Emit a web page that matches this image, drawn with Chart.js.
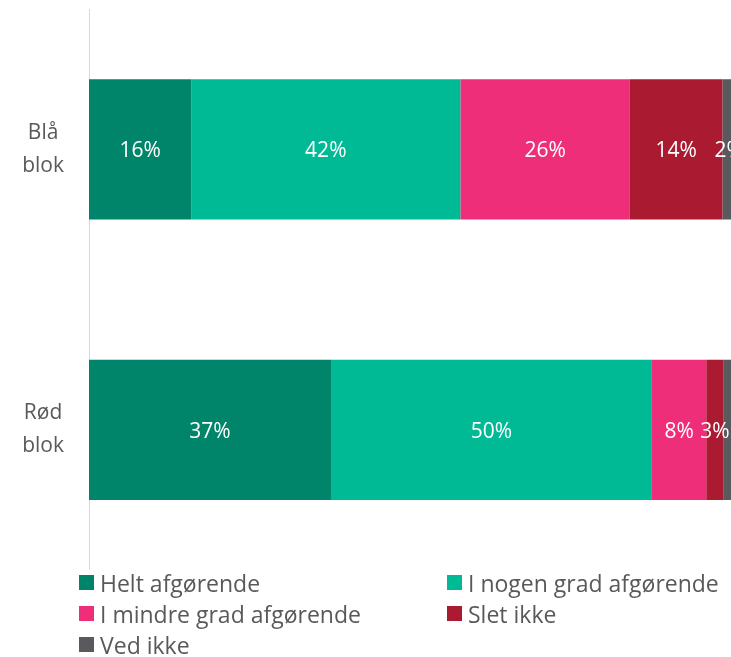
<!DOCTYPE html>
<html>
<head>
<meta charset="utf-8">
<script src="https://cdn.jsdelivr.net/npm/chart.js@4"></script>
<style>
  html, body { margin: 0; padding: 0; background: #fff; overflow: hidden; }
  body { width: 731px; height: 657px; position: relative; font-family: 'Open Sans', sans-serif; }
  #wrap { position: absolute; left: 0; top: 0; width: 736px; height: 570px; }
  #legend { position: absolute; left: 79px; top: 567px; display: grid;
    grid-template-columns: 368px 300px; grid-auto-rows: 31px; color: #595959; font-size: 23px; }
  #legend div { display: flex; align-items: center; white-space: nowrap; }
  #legend span.box { width: 15px; height: 15px; margin-right: 6px; display: inline-block; }
</style>
</head>
<body>
<div id="wrap"><canvas id="chart"></canvas></div>
<div id="legend"></div>
<script>
var categories = [['Blå', 'blok'], ['Rød', 'blok']];
var seriesNames = ['Helt afgørende', 'I nogen grad afgørende', 'I mindre grad afgørende', 'Slet ikke', 'Ved ikke'];
// shares in percent, labels show them rounded
var helt = [15.8, 37.4];
var noget = [41.6, 49.6];
var mindre = [26.2, 8.4];
var slet = [14.3, 2.7];
var vedIkke = [2.1, 1.9];
var colors = ['#00846a', '#00b995', '#ee2e78', '#aa1a30', '#5a595e'];

var values = [helt, noget, mindre, slet, vedIkke];

// labels in the middle of each segment, pushed right if they would overlap the previous one
var segLabels = {
	id: 'segLabels',
	afterDatasetsDraw: function (chart) {
		var ctx = chart.ctx;
		ctx.save();
		ctx.fillStyle = '#ffffff';
		ctx.font = '21px "Open Sans"';
		ctx.textAlign = 'left';
		ctx.textBaseline = 'middle';
		chart.data.labels.forEach(function (lab, j) {
			var prevEnd = -Infinity;
			chart.data.datasets.forEach(function (ds, i) {
				var bar = chart.getDatasetMeta(i).data[j];
				var p = bar.getProps(['x', 'base', 'y'], true);
				var txt = Math.round(ds.data[j]) + '%';
				var w = ctx.measureText(txt).width;
				var x = (p.x + p.base) / 2 - w / 2;
				if (x < prevEnd + 3) x = prevEnd + 3;
				ctx.fillText(txt, x, p.y + 2);
				prevEnd = x + w;
			});
		});
		ctx.restore();
	}
};

var datasets = seriesNames.map(function (name, i) {
	return {
		label: name,
		data: values[i],
		backgroundColor: colors[i],
		borderWidth: 0,
		barPercentage: 0.5,
		categoryPercentage: 1
	};
});

new Chart(document.getElementById('chart'), {
	type: 'bar',
	data: { labels: categories, datasets: datasets },
	plugins: [segLabels],
	options: {
		indexAxis: 'y',
		responsive: true,
		maintainAspectRatio: false,
		animation: false,
		layout: { padding: { top: 9, left: 0, right: 0, bottom: 0 } },
		plugins: { legend: { display: false }, tooltip: { enabled: false } },
		scales: {
			x: { stacked: true, min: 0, max: 100, display: false },
			y: {
				stacked: true,
				grid: { display: false, drawTicks: false },
				border: { display: true, color: '#d9d9d9', width: 1 },
				ticks: {
					color: '#595959',
					font: { size: 21, family: 'Open Sans', lineHeight: 1.55 },
					crossAlign: 'center',
					padding: 25
				},
				afterFit: function (s) {
					s.width = 89;
					s.paddingTop = 0;
					s.paddingBottom = 0;
				}
			}
		}
	}
});

var legend = document.getElementById('legend');
seriesNames.forEach(function (name, i) {
	var d = document.createElement('div');
	var b = document.createElement('span');
	b.className = 'box';
	b.style.background = colors[i];
	d.appendChild(b);
	d.appendChild(document.createTextNode(name));
	legend.appendChild(d);
});
</script>
</body>
</html>
